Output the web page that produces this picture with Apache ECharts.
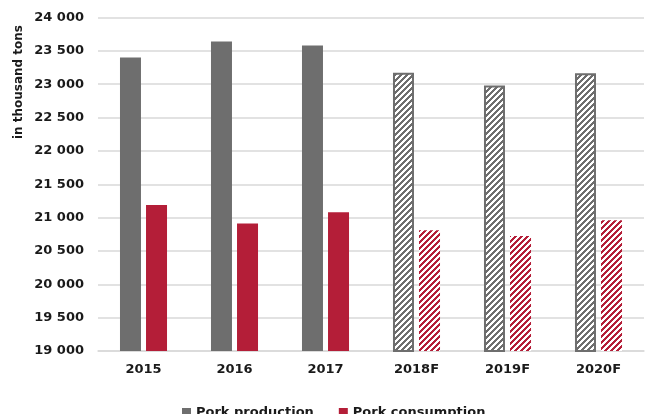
<!DOCTYPE html>
<html>
<head>
<meta charset="utf-8">
<script src="https://cdn.jsdelivr.net/npm/echarts@6/dist/echarts.min.js"></script>
<style>
  html, body { margin: 0; padding: 0; background: #fff; }
  #chart { width: 646px; height: 414px; }
</style>
</head>
<body>
<div id="chart"></div>
<script>
// Years on the x axis; the last three are forecasts
const categories = ['2015', '2016', '2017', '2018F', '2019F', '2020F'];
const forecastFrom = 3;

// Thousand tons
const porkProduction = [23400, 23640, 23580, 23170, 22980, 23165];
const porkConsumption = [21190, 20910, 21080, 20810, 20725, 20960];

const seriesNames = ['Pork production', 'Pork consumption'];
const axisTitle = 'in thousand tons';

const GREY = '#6e6e6e';
const RED = '#b41e38';
const FONT = '"DejaVu Sans", Verdana, sans-serif';

// Upward diagonal hatch used for forecast bars
function hatch(color) {
  const size = 6;
  const c = document.createElement('canvas');
  c.width = size; c.height = size;
  const ctx = c.getContext('2d');
  ctx.fillStyle = '#ffffff';
  ctx.fillRect(0, 0, size, size);
  ctx.fillStyle = color;
  for (let x = 0; x < size; x++) {
    for (let y = 0; y < size; y++) {
      if ((x + y) % size < 3) ctx.fillRect(x, y, 1, 1);
    }
  }
  return { image: c, repeat: 'repeat' };
}

function barData(values, color, border) {
  return values.map((v, i) => {
    if (i < forecastFrom) return { value: v };
    const style = { color: hatch(color) };
    if (border) { style.borderColor = color; style.borderWidth = 2; }
    return { value: v, itemStyle: style };
  });
}

const chart = echarts.init(document.getElementById('chart'), null, { renderer: 'canvas' });

chart.setOption({
  animation: false,
  grid: { left: 98, right: 2, top: 17.5, bottom: 63, containLabel: false },
  legend: {
    data: seriesNames,
    left: 177,
    top: 401,
    itemWidth: 9,
    itemHeight: 9,
    itemGap: 25,
    icon: 'rect',
    textStyle: { fontFamily: FONT, fontWeight: 'bold', fontSize: 13, color: '#1a1a1a' }
  },
  graphic: [{
    type: 'text',
    left: 13,
    top: 25,
    rotation: Math.PI / 2,
    style: {
      text: axisTitle,
      font: 'bold 12px ' + FONT,
      fill: '#1a1a1a'
    }
  }],
  xAxis: {
    type: 'category',
    data: categories,
    axisTick: { show: false },
    axisLine: { lineStyle: { color: '#d9d9d9', width: 1.5 } },
    axisLabel: { margin: 12, fontFamily: FONT, fontWeight: 'bold', fontSize: 13, color: '#1a1a1a' }
  },
  yAxis: {
    type: 'value',
    min: 19000,
    max: 24000,
    interval: 500,
    axisLine: { show: false },
    axisTick: { show: false },
    splitLine: { lineStyle: { color: '#d9d9d9', width: 1.5 } },
    axisLabel: {
      margin: 14,
      fontFamily: FONT,
      fontWeight: 'bold',
      fontSize: 13,
      color: '#1a1a1a',
      formatter: v => String(v).replace(/\B(?=(\d{3})+(?!\d))/g, ' ')
    }
  },
  series: [
    {
      name: seriesNames[0],
      type: 'bar',
      barWidth: 21,
      barGap: '24%',
      itemStyle: { color: GREY },
      data: barData(porkProduction, GREY, true)
    },
    {
      name: seriesNames[1],
      type: 'bar',
      barWidth: 21,
      itemStyle: { color: RED },
      data: barData(porkConsumption, RED, false)
    }
  ]
});
</script>
</body>
</html>
